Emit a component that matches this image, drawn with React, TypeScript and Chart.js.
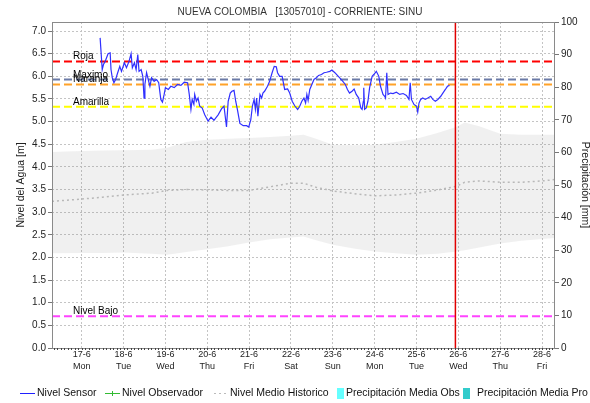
import React, { useEffect, useRef } from 'react';
import { Chart, registerables } from 'chart.js';

Chart.register(...registerables);

const TITLE = 'NUEVA COLOMBIA   [13057010] - CORRIENTE: SINU';
const LEFT_TITLE = 'Nivel del Agua [m]';
const RIGHT_TITLE = 'Precipitación [mm]';

const X_MIN = 16.29;
const X_MAX = 28.31;
const tickDays = [17, 18, 19, 20, 21, 22, 23, 24, 25, 26, 27, 28];
const tickDates = ['17-6', '18-6', '19-6', '20-6', '21-6', '22-6', '23-6', '24-6', '25-6', '26-6', '27-6', '28-6'];
const tickWeekdays = ['Mon', 'Tue', 'Wed', 'Thu', 'Fri', 'Sat', 'Sun', 'Mon', 'Tue', 'Wed', 'Thu', 'Fri'];

const LEVEL_MAX = 7.2;
const leftTicks = [0, 0.5, 1, 1.5, 2, 2.5, 3, 3.5, 4, 4.5, 5, 5.5, 6, 6.5, 7];
const PRECIP_MAX = 100;
const rightTicks = [0, 10, 20, 30, 40, 50, 60, 70, 80, 90, 100];

const sensorDays = [
  17.44, 17.49, 17.52, 17.56, 17.63, 17.68, 17.70, 17.73, 17.77, 17.81, 17.86, 17.91, 17.95,
  18.02, 18.07, 18.13, 18.18, 18.21, 18.26, 18.30, 18.34, 18.37, 18.42, 18.46, 18.49, 18.51,
  18.55, 18.59, 18.63, 18.67, 18.73, 18.79, 18.84, 18.89, 18.93, 18.97, 19.00, 19.07, 19.13,
  19.21, 19.29, 19.37, 19.45, 19.53, 19.57, 19.61, 19.64, 19.68, 19.70, 19.74, 19.78, 19.82,
  19.88, 19.94, 20.02, 20.09, 20.16, 20.26, 20.34, 20.40, 20.46, 20.50, 20.55, 20.59, 20.64,
  20.68, 20.72, 20.78, 20.86, 20.94, 20.99, 21.04, 21.08, 21.12, 21.15, 21.18, 21.21, 21.26,
  21.30, 21.33, 21.37, 21.44, 21.49, 21.55, 21.60, 21.65, 21.68, 21.73, 21.79, 21.85, 21.92,
  21.97, 22.03, 22.09, 22.16, 22.21, 22.26, 22.31, 22.35, 22.38, 22.41, 22.45, 22.50, 22.55,
  22.61, 22.66, 22.73, 22.79, 22.85, 22.93, 22.98, 23.05, 23.11, 23.16, 23.24, 23.30, 23.35,
  23.40, 23.46, 23.51, 23.56, 23.62, 23.67, 23.70, 23.73, 23.74, 23.76, 23.80, 23.84, 23.88,
  23.94, 23.98, 24.04, 24.10, 24.14, 24.20, 24.24, 24.26, 24.29, 24.32, 24.38, 24.44, 24.52,
  24.60, 24.68, 24.76, 24.82, 24.85, 24.88, 24.94, 25.00, 25.03, 25.06, 25.10, 25.15, 25.21,
  25.27, 25.34, 25.39, 25.45, 25.51, 25.58, 25.63, 25.69, 25.74, 25.79,
];
const sensorLevels = [
  6.85, 6.15, 6.26, 6.33, 6.50, 6.52, 6.15, 5.97, 5.86, 5.93, 6.08, 6.22, 6.11,
  6.30, 6.19, 6.33, 6.50, 6.19, 6.30, 6.15, 6.48, 6.11, 6.15, 6.00, 5.52, 5.82,
  6.08, 5.93, 5.78, 5.97, 5.89, 5.93, 5.86, 5.49, 5.43, 5.60, 5.75, 5.71, 5.78,
  5.75, 5.82, 5.80, 5.87, 5.86, 5.60, 5.27, 5.49, 5.38, 5.60, 5.45, 5.52, 5.34,
  5.30, 5.15, 5.01, 5.10, 5.03, 5.15, 5.28, 5.34, 4.88, 5.45, 5.63, 5.67, 5.69,
  5.45, 5.27, 4.96, 4.91, 4.91, 4.88, 5.04, 5.35, 5.49, 5.27, 5.52, 5.12, 5.60,
  5.52, 5.63, 5.67, 5.78, 5.89, 6.08, 6.22, 6.21, 6.08, 6.00, 6.00, 5.71, 5.72,
  5.63, 5.45, 5.35, 5.27, 5.34, 5.45, 5.52, 5.41, 5.60, 5.47, 5.71, 5.82, 5.93,
  5.97, 6.02, 6.04, 6.08, 6.09, 6.11, 6.14, 6.08, 6.02, 5.97, 5.89, 5.82, 5.71,
  5.63, 5.67, 5.72, 5.60, 5.52, 5.30, 5.27, 5.45, 5.75, 5.27, 5.30, 5.45, 5.75,
  6.00, 6.04, 6.11, 6.00, 5.78, 5.60, 5.56, 5.52, 6.08, 5.60, 5.63, 5.62, 5.65,
  5.60, 5.62, 5.58, 5.49, 5.86, 5.49, 5.38, 5.34, 5.21, 5.41, 5.49, 5.52, 5.49,
  5.52, 5.56, 5.49, 5.45, 5.49, 5.56, 5.63, 5.71, 5.78, 5.80,
];

const histDays = [
  16.29, 17.0, 17.5, 18.0, 18.68, 19.04, 19.5, 20.0, 20.5, 21.0, 21.5, 22.0, 22.3, 22.6,
  23.0, 23.5, 24.0, 24.5, 25.0, 25.5, 25.95, 26.15, 26.5, 27.0, 27.5, 28.0, 28.31,
];
const histMax = [
  4.33, 4.35, 4.36, 4.37, 4.38, 4.42, 4.55, 4.60, 4.62, 4.64, 4.66, 4.69, 4.71, 4.62,
  4.49, 4.48, 4.49, 4.55, 4.62, 4.75, 4.88, 4.98, 4.90, 4.73, 4.71, 4.71, 4.71,
];
const histMin = [
  2.09, 2.10, 2.10, 2.11, 2.08, 2.06, 2.12, 2.18, 2.25, 2.33, 2.40, 2.44, 2.46, 2.38,
  2.28, 2.20, 2.13, 2.09, 2.06, 2.08, 2.13, 2.16, 2.22, 2.31, 2.37, 2.41, 2.43,
];
const histMean = [
  3.24, 3.29, 3.33, 3.38, 3.42, 3.48, 3.50, 3.49, 3.48, 3.48, 3.56, 3.64, 3.64, 3.55,
  3.47, 3.41, 3.36, 3.38, 3.42, 3.49, 3.57, 3.66, 3.69, 3.66, 3.66, 3.69, 3.72,
];

const thresholdNames = ['Roja', 'Maximo', 'Naranja', 'Amarilla', 'Nivel Bajo'];
const thresholdLevels = [6.33, 5.93, 5.82, 5.33, 0.70];
const thresholdColors = ['#ff0000', '#6b7aa6', '#ffa228', '#ffff00', '#ff44ff'];

const NOW_DAY = 25.93;

const precipObs: number[] = [];
const precipPro: number[] = [];

const FONT = '"Liberation Sans", Arial, sans-serif';

const legendItems = [
  { label: 'Nivel Sensor', kind: 'line', color: '#2020ff', iconX: 20, textX: 37 },
  { label: 'Nivel Observador', kind: 'cross', color: '#33bb33', iconX: 105, textX: 122 },
  { label: 'Nivel Medio Historico', kind: 'dots', color: '#bbbbbb', iconX: 214, textX: 230 },
  { label: 'Precipitación Media Obs', kind: 'box', color: '#66ffff', iconX: 337, textX: 346 },
  { label: 'Precipitación Media Pro', kind: 'box', color: '#33cccc', iconX: 463, textX: 477 },
];

const decorPlugin = {
  id: 'decor',
  afterDatasetsDraw(chart: any) {
    const { ctx, chartArea, scales } = chart;
    ctx.save();
    ctx.font = `10px ${FONT}`;
    ctx.fillStyle = '#000';
    ctx.textAlign = 'left';
    ctx.textBaseline = 'alphabetic';
    thresholdNames.forEach((name, i) => {
      const y = scales.y.getPixelForValue(thresholdLevels[i]);
      ctx.fillText(name, chartArea.left + 21, y - 2);
    });
    ctx.restore();
  },
  afterDraw(chart: any) {
    const { ctx, chartArea, scales } = chart;
    ctx.save();
    // frame
    ctx.strokeStyle = '#8a8a8a';
    ctx.lineWidth = 1;
    ctx.strokeRect(chartArea.left + 0.5, chartArea.top + 0.5, chartArea.right - chartArea.left - 1, chartArea.bottom - chartArea.top);
    // minor ticks along time axis (every 2 hours)
    ctx.strokeStyle = '#444';
    ctx.beginPath();
    for (let h = Math.ceil(X_MIN * 12); h <= X_MAX * 12; h++) {
      const x = Math.round(scales.x.getPixelForValue(h / 12)) + 0.5;
      ctx.moveTo(x, chartArea.bottom);
      ctx.lineTo(x, chartArea.bottom + 2);
    }
    ctx.stroke();
    // title
    ctx.fillStyle = '#333';
    ctx.font = `10px ${FONT}`;
    ctx.textAlign = 'center';
    ctx.textBaseline = 'middle';
    ctx.fillText(TITLE, 300, 12);
    // axis titles
    const cy = (chartArea.top + chartArea.bottom) / 2;
    ctx.fillStyle = '#222';
    ctx.font = `10.5px ${FONT}`;
    ctx.save();
    ctx.translate(21, cy);
    ctx.rotate(-Math.PI / 2);
    ctx.fillText(LEFT_TITLE, 0, 0);
    ctx.restore();
    ctx.save();
    ctx.translate(585, cy);
    ctx.rotate(Math.PI / 2);
    ctx.fillText(RIGHT_TITLE, 0, 0);
    ctx.restore();
    // legend
    ctx.font = `10.5px ${FONT}`;
    ctx.textAlign = 'left';
    ctx.textBaseline = 'middle';
    const ly = 393;
    legendItems.forEach((it) => {
      const x = it.iconX;
      if (it.kind === 'box') {
        ctx.fillStyle = it.color;
        ctx.fillRect(x, ly - 5, 7, 11);
      } else {
        ctx.strokeStyle = it.color;
        ctx.lineWidth = 1;
        if (it.kind === 'dots') ctx.setLineDash([2, 3]);
        ctx.beginPath();
        ctx.moveTo(x, ly + 0.5);
        ctx.lineTo(x + 15, ly + 0.5);
        ctx.stroke();
        ctx.setLineDash([]);
        if (it.kind === 'cross') {
          ctx.beginPath();
          ctx.moveTo(x + 7.5, ly - 2);
          ctx.lineTo(x + 7.5, ly + 3);
          ctx.moveTo(x + 5, ly + 0.5);
          ctx.lineTo(x + 10, ly + 0.5);
          ctx.stroke();
        }
      }
      ctx.fillStyle = '#111';
      ctx.fillText(it.label, it.textX, ly);
    });
    ctx.restore();
  },
};

export default function App() {
  const ref = useRef<HTMLCanvasElement | null>(null);

  useEffect(() => {
    if (!ref.current) return;
    const thresholdSets = thresholdNames.map((name, i) => ({
      type: 'line' as const,
      label: name,
      data: [
        { x: X_MIN, y: thresholdLevels[i] },
        { x: X_MAX, y: thresholdLevels[i] },
      ],
      borderColor: thresholdColors[i],
      borderWidth: 2,
      borderDash: [8, 4],
      pointRadius: 0,
      yAxisID: 'y',
    }));

    const chart = new Chart(ref.current, {
      type: 'line',
      data: {
        datasets: [
          {
            label: 'Nivel Sensor',
            data: sensorDays.map((d, i) => ({ x: d, y: sensorLevels[i] })),
            borderColor: '#3030ff',
            borderWidth: 1.2,
            pointRadius: 0,
            yAxisID: 'y',
          },
          {
            label: 'Ahora',
            data: [
              { x: NOW_DAY, y: 0 },
              { x: NOW_DAY, y: LEVEL_MAX },
            ],
            borderColor: '#e00000',
            borderWidth: 1.5,
            pointRadius: 0,
            yAxisID: 'y',
          },
          ...thresholdSets,
          {
            label: 'Nivel Medio Historico',
            data: histDays.map((d, i) => ({ x: d, y: histMean[i] })),
            borderColor: '#b8b8b8',
            borderWidth: 1.5,
            borderDash: [2, 3],
            pointRadius: 0,
            yAxisID: 'y',
          },
          {
            label: 'Max Historico',
            data: histDays.map((d, i) => ({ x: d, y: histMax[i] })),
            borderWidth: 0,
            borderColor: 'rgba(0,0,0,0)',
            backgroundColor: 'rgba(120,120,120,0.115)',
            fill: '+1',
            pointRadius: 0,
            yAxisID: 'y',
          },
          {
            label: 'Min Historico',
            data: histDays.map((d, i) => ({ x: d, y: histMin[i] })),
            borderWidth: 0,
            borderColor: 'rgba(0,0,0,0)',
            pointRadius: 0,
            yAxisID: 'y',
          },
          {
            type: 'bar' as const,
            label: 'Precipitación Media Obs',
            data: precipObs,
            backgroundColor: '#66ffff',
            yAxisID: 'y1',
          },
          {
            type: 'bar' as const,
            label: 'Precipitación Media Pro',
            data: precipPro,
            backgroundColor: '#33cccc',
            yAxisID: 'y1',
          },
        ] as any,
      },
      plugins: [decorPlugin],
      options: {
        responsive: false,
        animation: false,
        events: [],
        layout: { padding: { top: 22, bottom: 25, left: 0, right: 0 } },
        plugins: {
          legend: { display: false },
          title: { display: false },
          tooltip: { enabled: false },
        },
        scales: {
          x: {
            type: 'linear',
            min: X_MIN,
            max: X_MAX,
            offset: false,
            afterBuildTicks: (scale: any) => {
              scale.ticks = tickDays.map((v) => ({ value: v }));
            },
            afterFit: (scale: any) => {
              scale.height = 30;
            },
            ticks: {
              autoSkip: false,
              maxRotation: 0,
              padding: 1,
              color: '#222',
              font: { family: FONT, size: 9, lineHeight: 1.3 },
              callback: (_v: any, i: number) => [tickDates[i], tickWeekdays[i]],
            },
            grid: {
              offset: false,
              color: '#c4c4c4',
              lineWidth: 1,
              drawTicks: false,
              tickLength: 0,
            },
            border: { display: false, dash: [2, 2] },
          },
          y: {
            type: 'linear',
            position: 'left',
            min: 0,
            max: LEVEL_MAX,
            afterBuildTicks: (scale: any) => {
              scale.ticks = leftTicks.map((v) => ({ value: v }));
            },
            afterFit: (scale: any) => {
              scale.width = 52;
            },
            ticks: {
              padding: 2,
              color: '#222',
              font: { family: FONT, size: 10 },
              callback: (v: any) => Number(v).toFixed(1),
            },
            grid: {
              color: '#c4c4c4',
              lineWidth: 1,
              tickLength: 4,
              tickColor: '#777',
              tickBorderDash: [],
            },
            border: { display: false, dash: [2, 2] },
          },
          y1: {
            type: 'linear',
            position: 'right',
            min: 0,
            max: PRECIP_MAX,
            afterBuildTicks: (scale: any) => {
              scale.ticks = rightTicks.map((v) => ({ value: v }));
            },
            afterFit: (scale: any) => {
              scale.width = 35;
            },
            ticks: {
              padding: 2,
              color: '#222',
              font: { family: FONT, size: 10 },
              callback: (v: any) => String(v),
            },
            grid: {
              drawOnChartArea: false,
              tickLength: 4,
              tickColor: '#777',
              tickBorderDash: [],
            },
            border: { display: false },
          },
        },
      } as any,
    });
    return () => chart.destroy();
  }, []);

  return (
    <div style={{ position: 'fixed', left: 0, top: 0, width: 590, height: 403, background: '#fff' }}>
      <canvas ref={ref} width={590} height={403} style={{ display: 'block', width: 590, height: 403 }} />
    </div>
  );
}
